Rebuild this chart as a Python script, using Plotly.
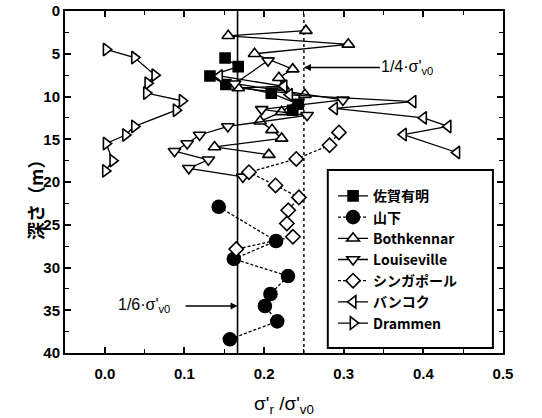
import plotly.graph_objects as go

# Depth profiles of sigma'_r / sigma'_v0 (x) against depth in metres (y)
saga_x = [0.151, 0.1675, 0.132, 0.152, 0.209, 0.243, 0.236]
saga_y = [5.5, 6.5, 7.6, 8.6, 9.6, 10.9, 11.6]

yamashita_x = [0.143, 0.215, 0.162, 0.230, 0.208, 0.201, 0.2165, 0.157]
yamashita_y = [22.9, 26.9, 29.0, 31.0, 33.1, 34.5, 36.3, 38.4]

bothkennar_x = [0.2525, 0.155, 0.3057, 0.188, 0.236, 0.2186, 0.2236, 0.1675,
                0.2513, 0.222, 0.195, 0.210, 0.222, 0.1378, 0.206]
bothkennar_y = [2.3, 2.9, 3.9, 5.0, 6.8, 7.8, 8.8, 9.0,
                9.8, 11.8, 12.9, 13.9, 14.9, 15.9, 16.8]

louiseville_x = [0.205, 0.163, 0.299, 0.197, 0.254, 0.1545, 0.119, 0.1034,
                 0.0875, 0.130, 0.1055, 0.1734]
louiseville_y = [5.8, 8.5, 10.4, 11.5, 12.2, 13.5, 14.5, 15.5,
                 16.4, 17.4, 18.4, 19.4]

singapore_x = [0.294, 0.2822, 0.2404, 0.181, 0.2144, 0.2437, 0.2303, 0.2286, 0.2362, 0.165]
singapore_y = [14.2, 15.7, 17.3, 18.85, 20.4, 21.8, 23.3, 24.85, 26.4, 27.85]

bangkok_x = [0.144, 0.225, 0.232, 0.387, 0.2885, 0.4003, 0.431, 0.375, 0.442]
bangkok_y = [7.6, 8.8, 9.8, 10.6, 11.4, 12.5, 13.5, 14.45, 16.55]

drammen_x = [0.0017, 0.0373, 0.0628, 0.054, 0.0523, 0.0971, 0.0896,
             0.0373, 0.026, 0.0017, 0.010, 0.0008]
drammen_y = [4.5, 5.45, 7.5, 8.45, 9.6, 10.5, 11.6, 13.5, 14.5, 15.5, 17.5, 18.7]

# Reference ratios
ratio_sixth = 1 / 6
ratio_quarter = 1 / 4

JP = "Noto Sans CJK JP"
LAT = "Liberation Sans"
BLACK = "black"

fig = go.Figure()


def add_series(name, xs, ys, symbol, dash, size=10, filled=False):
    fig.add_trace(go.Scatter(
        x=xs, y=ys, name=name, mode="lines+markers",
        line=dict(color=BLACK, width=1.3, dash=dash),
        marker=dict(symbol=symbol, size=size,
                    color=BLACK if filled else "white",
                    line=dict(color=BLACK, width=1.6)),
    ))


add_series("佐賀有明", saga_x, saga_y, "square", "solid", size=10, filled=True)
add_series("山下", yamashita_x, yamashita_y, "circle", "3px,2px", size=13, filled=True)
add_series("Bothkennar", bothkennar_x, bothkennar_y, "triangle-up", "solid", size=11)
add_series("Louiseville", louiseville_x, louiseville_y, "triangle-down", "solid", size=11)
add_series("シンガポール", singapore_x, singapore_y, "diamond", "3px,2px", size=11)
add_series("バンコク", bangkok_x, bangkok_y, "triangle-left", "solid", size=11)
add_series("Drammen", drammen_x, drammen_y, "triangle-right", "solid", size=11)

# Vertical reference lines
fig.add_shape(type="line", xref="x", yref="paper", x0=ratio_sixth, x1=ratio_sixth,
              y0=0, y1=1, line=dict(color=BLACK, width=1.6), layer="below")
fig.add_shape(type="line", xref="x", yref="paper", x0=ratio_quarter, x1=ratio_quarter,
              y0=0, y1=1, line=dict(color=BLACK, width=1.4, dash="dot"), layer="below")

# Legend frame
fig.add_shape(type="rect", xref="paper", yref="paper",
              x0=0.600, x1=0.977, y0=0.0146, y1=0.535,
              line=dict(color=BLACK, width=2), fillcolor="white", layer="below")

label_font = dict(family=LAT, size=16, color=BLACK)

# Labelled arrows pointing at the reference lines
fig.add_annotation(x=ratio_quarter, y=6.6, ax=0.380, ay=6.6, xref="x", yref="y",
                   axref="x", ayref="y", text="1/4·σ'<sub>v0</sub>", showarrow=True,
                   arrowhead=2, arrowsize=1, arrowwidth=1.4, arrowcolor=BLACK,
                   font=label_font)
fig.add_annotation(x=ratio_sixth, y=34.5, ax=0.058, ay=34.5, xref="x", yref="y",
                   axref="x", ayref="y", text="1/6·σ'<sub>v0</sub>   ", showarrow=True,
                   arrowhead=2, arrowsize=1, arrowwidth=1.4, arrowcolor=BLACK,
                   font=label_font)

# Depth axis title
fig.add_annotation(x=-0.103, y=0.462, xref="paper", yref="paper",
                   text="深さ（m）", textangle=-90, showarrow=False,
                   font=dict(family=JP, size=18, color=BLACK, weight="bold"))

axis_common = dict(
    showline=True, linecolor=BLACK, linewidth=2, mirror="ticks",
    ticks="inside", ticklen=6, tickwidth=1.5, tickcolor=BLACK,
    showgrid=False, zeroline=False, automargin=False,
    tickfont=dict(family=LAT, size=15, color=BLACK, weight="bold"),
)

fig.update_xaxes(
    range=[-0.05, 0.5], tick0=0, dtick=0.1, tickformat=".1f",
    ticklabelstandoff=6,
    minor=dict(ticks="inside", ticklen=4, dtick=0.05, tick0=0, tickcolor=BLACK, tickwidth=1.2),
    title=dict(text="σ'<sub>r</sub> /σ'<sub>v0</sub>",
               font=dict(family=LAT, size=19, color=BLACK), standoff=16),
    **axis_common,
)
fig.update_yaxes(
    range=[40, 0], tick0=0, dtick=5,
    minor=dict(ticks="inside", ticklen=4, dtick=2.5, tick0=0, tickcolor=BLACK, tickwidth=1.2),
    **axis_common,
)

fig.update_layout(
    width=542, height=418,
    margin=dict(l=65, r=39, t=11, b=65),
    paper_bgcolor="white", plot_bgcolor="white",
    showlegend=True,
    legend=dict(
        x=0.612, y=0.505, xanchor="left", yanchor="top",
        bgcolor="rgba(0,0,0,0)", borderwidth=0,
        font=dict(family=JP, size=14, color=BLACK, weight="bold"),
        itemwidth=30, tracegroupgap=0,
    ),
)

fig.write_html("out.html")
